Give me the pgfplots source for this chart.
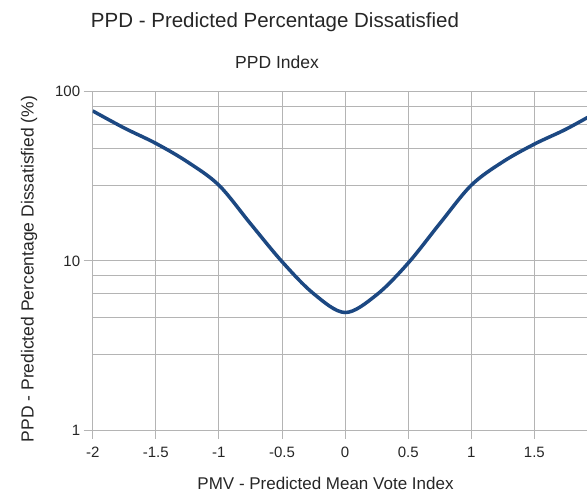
\documentclass[border=0pt]{standalone}
\usepackage{fontspec}
\setmainfont{Liberation Sans}
\usepackage{pgfplots}
\pgfplotsset{compat=1.18}
\definecolor{ppdblue}{RGB}{28,72,130}
\definecolor{gridgray}{RGB}{180,180,180}

\begin{document}
\begin{tikzpicture}
\path[use as bounding box] (0bp,0bp) rectangle (587bp,492bp);
\begin{axis}[at={(92.7bp,62bp)}, anchor=south west,
             scale only axis,
             width=494.3bp, height=338.3bp,
             ymode=log,
             xmin=-2, xmax=1.917,
             ymin=1, ymax=100,
             xtick={-2,-1.5,...,1.5},
             xticklabels={-2,-1.5,-1,-0.5,0,0.5,1,1.5},
             ytick={1,10,100},
             yticklabels={1,10,100},
             minor ytick={2.8,4.6,6.4,8.2,28,46,64,82},
             grid=both,
             grid style={gridgray, line width=0.8bp},
             minor grid style={gridgray, line width=0.8bp},
             axis x line*=bottom, axis y line*=left,
             axis line style={-, gridgray, line width=0.8bp},
             tick align=outside,
             xtick pos=left, ytick pos=left,
             major tick length=9bp, minor tick length=0bp,
             tick style={gridgray, line width=0.8bp},
             /pgf/number format/assume math mode=true,
             ticklabel style={font=\fontsize{15bp}{17bp}\selectfont, text=black!85},
             xticklabel style={yshift=-5bp},
            ]
  \addplot[ppdblue, line width=3.5bp, smooth, tension=0.55] coordinates {
    (-2.00, 77.0)
    (-1.75, 61.0)
    (-1.50, 49.5)
    (-1.25, 38.5)
    (-1.00, 28.0)
    (-0.75, 16.6)
    (-0.50, 9.9)
    (-0.25, 6.4)
    (0.00, 4.95)
    (0.25, 6.3)
    (0.50, 9.7)
    (0.75, 16.6)
    (1.00, 28.0)
    (1.25, 38.5)
    (1.50, 49.0)
    (1.75, 60.0)
    (2.00, 76.0)
  };
\end{axis}
\node[font=\fontsize{20.5bp}{24bp}\selectfont, text=black!85] at (275bp,469.3bp) {PPD - Predicted Percentage Dissatisfied};
\node[font=\fontsize{17.5bp}{20bp}\selectfont, text=black!85] at (277bp,430bp) {PPD Index};
\node[font=\fontsize{17bp}{20bp}\selectfont, text=black!85] at (325.5bp,9bp) {PMV - Predicted Mean Vote Index};
\node[font=\fontsize{17.5bp}{20bp}\selectfont, text=black!85, rotate=90] at (29bp,223bp) {PPD - Predicted Percentage Dissatisfied (\%)};
\end{tikzpicture}
\end{document}
